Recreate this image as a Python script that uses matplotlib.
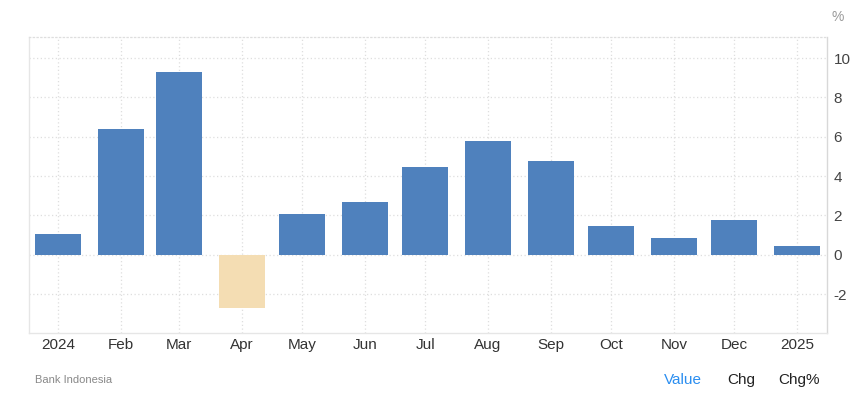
import datetime as dt
import matplotlib
matplotlib.use("Agg")
import matplotlib.pyplot as plt
import matplotlib.dates as mdates

plt.rcParams["font.family"] = ["Liberation Sans", "DejaVu Sans"]
plt.rcParams["axes.unicode_minus"] = False

# monthly values (%), Jan 2024 .. Jan 2025
months = [dt.date(2024, m, 1) for m in range(1, 13)] + [dt.date(2025, 1, 1)]
values = [1.05, 6.40, 9.31, -2.70, 2.07, 2.68, 4.47, 5.79, 4.77, 1.46, 0.85, 1.77, 0.44]
tick_labels = ["2024", "Feb", "Mar", "Apr", "May", "Jun", "Jul", "Aug", "Sep",
               "Oct", "Nov", "Dec", "2025"]
y_ticks = [-2, 0, 2, 4, 6, 8, 10]

blue = "#4f81bd"
beige = "#f4ddb3"
grid_c = "#dedede"

fig = plt.figure(figsize=(8.51, 3.95), dpi=100)
ax = fig.add_axes([0.0337, 0.156, 0.9377, 0.750])

x = mdates.date2num(months)
colors = [blue if v >= 0 else beige for v in values]
ax.bar(x, values, width=22.8, color=colors, zorder=3)

ax.set_xlim(x[0] - 14.5, x[-1] + 14.7)
ax.set_ylim(-4.0, 11.07)

ax.set_xticks(x)
ax.set_xticklabels(tick_labels)
ax.set_yticks(y_ticks)
ax.yaxis.tick_right()
ax.tick_params(axis="y", length=0, pad=5, labelsize=11, labelcolor="#444444")
ax.tick_params(axis="x", length=0, pad=3, labelsize=11, labelcolor="#333333")

ax.grid(True, linestyle=(0, (1, 2)), color=grid_c, linewidth=0.9, zorder=0)

for side in ["left", "bottom"]:
    ax.spines[side].set_color("#e6e6e6")
    ax.spines[side].set_linewidth(1.0)
ax.spines["right"].set_color("#d8d8d8")
ax.spines["right"].set_linewidth(1.0)
ax.spines["top"].set_color(grid_c)
ax.spines["top"].set_linestyle((0, (1, 2)))
ax.spines["top"].set_linewidth(0.9)

fig.text(838 / 851, 1 - 17 / 395, "%", fontsize=10, color="#999999",
         ha="center", va="center")
fig.text(35 / 851, 1 - 380 / 395, "Bank Indonesia", fontsize=8, color="#888888",
         ha="left", va="center")
fig.text(683 / 851, 1 - 380 / 395, "Value", fontsize=11, color="#2b8ef0",
         ha="center", va="center")
fig.text(741 / 851, 1 - 380 / 395, "Chg", fontsize=11, color="#222222",
         ha="center", va="center")
fig.text(799 / 851, 1 - 380 / 395, "Chg%", fontsize=11, color="#222222",
         ha="center", va="center")

fig.savefig("out.png", dpi=100)
